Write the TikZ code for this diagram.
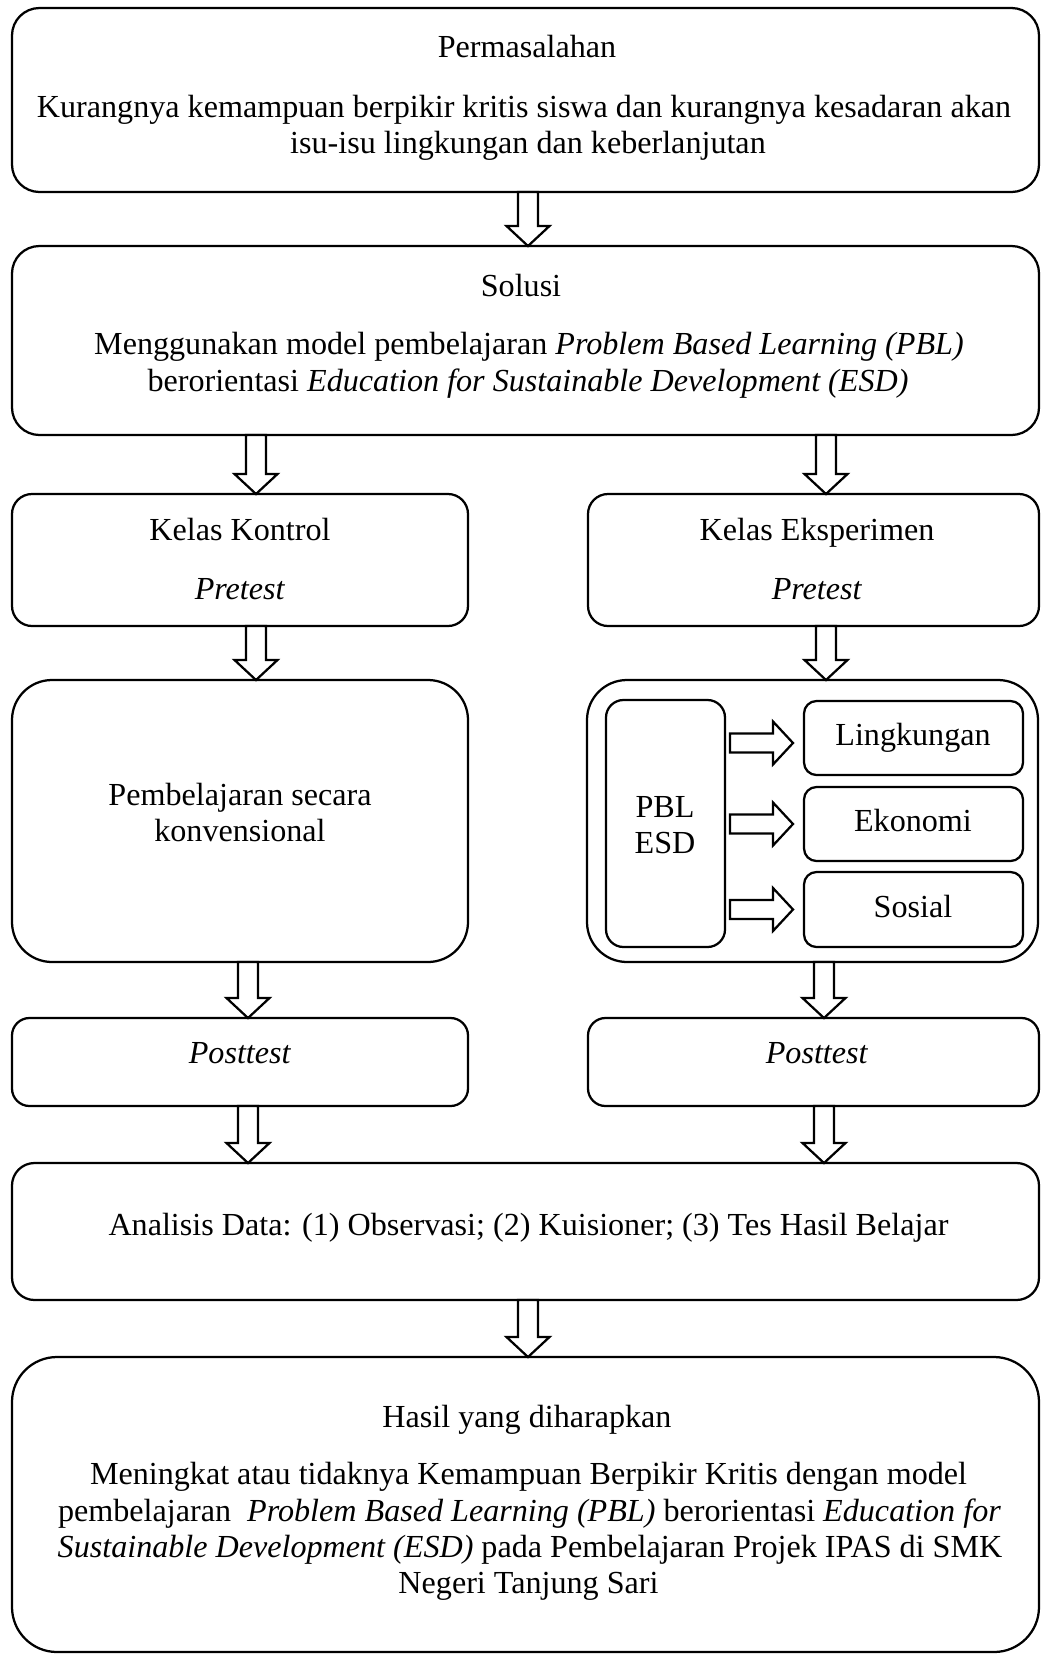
\documentclass[tikz,border=0pt]{standalone}
\usepackage{fontspec}
\setmainfont{Liberation Serif}
\usetikzlibrary{calc,fit}
\newcommand\downblock[2]{%
  \draw[blk] ($(#1)+(-10,0)$) -- ($(#1)+(10,0)$) -- ($(#2)+(10,-20)$) -- ($(#2)+(21.5,-20)$) -- (#2) -- ($(#2)+(-21.5,-20)$) -- ($(#2)+(-10,-20)$) -- cycle;}
\newcommand\rightblock[2]{%
  \draw[blk] ($(#1)+(0,-9.5)$) -- ($(#2)+(-20,-9.5)$) -- ($(#2)+(-20,-21.5)$) -- (#2) -- ($(#2)+(-20,21.5)$) -- ($(#2)+(-20,9.5)$) -- ($(#1)+(0,9.5)$) -- cycle;}
\begin{document}
\begin{tikzpicture}[x=0.4pt,y=-0.4pt,
  box/.style={draw, line width=0.9pt, inner sep=0pt, outer sep=0pt},
  blk/.style={draw, line width=0.9pt, fill=white, line join=miter},
  lbl/.style={anchor=base, inner sep=0pt, font=\fontsize{12.85pt}{15.4pt}\selectfont}]
\useasboundingbox (0,0) rectangle (1041,1654);
% boxes
\node[box, rounded corners=11pt, fit={(12,8) (1039,192)}] (b1) {};
\node[box, rounded corners=11pt, fit={(12,246) (1039,435)}] (b2) {};
\node[box, rounded corners=8pt, fit={(12,494) (468,626)}] (kk) {};
\node[box, rounded corners=8pt, fit={(588,494) (1039,626)}] (ke) {};
\node[box, rounded corners=16pt, fit={(12,680) (468,962)}] (pk) {};
\node[box, rounded corners=16pt, fit={(587,680) (1038,962)}] (pe) {};
\node[box, rounded corners=7pt, fit={(606,700) (725,947)}] (pbl) {};
\node[box, rounded corners=5pt, fit={(804,701) (1023,775)}] (ling) {};
\node[box, rounded corners=5pt, fit={(804,787) (1023,861)}] (eko) {};
\node[box, rounded corners=5pt, fit={(804,872) (1023,947)}] (sos) {};
\node[box, rounded corners=7pt, fit={(12,1018) (468,1106)}] (pk2) {};
\node[box, rounded corners=7pt, fit={(588,1018) (1039,1106)}] (pe2) {};
\node[box, rounded corners=9pt, fit={(12,1163) (1039,1300)}] (an) {};
\node[box, rounded corners=18pt, fit={(12,1357) (1039,1652)}] (ha) {};
% x positions of arrows
\coordinate (xC) at (528,0);
\coordinate (xL) at (256,0);
\coordinate (xR) at (826,0);
\coordinate (xL2) at (248,0);
\coordinate (xR2) at (824,0);
% vertical block arrows
\downblock{b1.south -| xC}{b2.north -| xC}
\downblock{b2.south -| xL}{kk.north -| xL}
\downblock{b2.south -| xR}{ke.north -| xR}
\downblock{kk.south -| xL}{pk.north -| xL}
\downblock{ke.south -| xR}{pe.north -| xR}
\downblock{pk.south -| xL2}{pk2.north -| xL2}
\downblock{pe.south -| xR2}{pe2.north -| xR2}
\downblock{pk2.south -| xL2}{an.north -| xL2}
\downblock{pe2.south -| xR2}{an.north -| xR2}
\downblock{an.south -| xC}{ha.north -| xC}
% horizontal block arrows
\coordinate (lt) at ($(ling.west)+(-11,5)$);
\coordinate (et) at ($(eko.west)+(-11,0)$);
\coordinate (st) at ($(sos.west)+(-11,0)$);
\coordinate (ls) at ($(pbl.east |- lt)+(5,0)$);
\coordinate (es) at ($(pbl.east |- et)+(5,0)$);
\coordinate (ss) at ($(pbl.east |- st)+(5,0)$);
\rightblock{ls}{lt}
\rightblock{es}{et}
\rightblock{ss}{st}
% texts
\node[lbl] (t1) at (527,57.5) {Permasalahan};
\node[lbl] (t1a) at (524,117.6) {Kurangnya kemampuan berpikir kritis siswa dan kurangnya kesadaran akan};
\node[lbl] (t1b) at (528,153.5) {isu-isu lingkungan dan keberlanjutan};
\node[lbl] (t2) at (521,296) {Solusi};
\node[lbl] (t2a) at (529,354) {Menggunakan model pembelajaran \textit{Problem Based Learning (PBL)}};
\node[lbl] (t2b) at (528,391) {berorientasi \textit{Education for Sustainable Development (ESD)}};
\node[lbl] (t3) at (240,540.5) {Kelas Kontrol};
\node[lbl] (t3a) at (240,599.6) {\textit{Pretest}};
\node[lbl] (t4) at (817,540.5) {Kelas Eksperimen};
\node[lbl] (t4a) at (817,599.6) {\textit{Pretest}};
\node[lbl] (t5) at (240,805) {Pembelajaran secara};
\node[lbl] (t5a) at (240,841) {konvensional};
\node[lbl] (t6) at (665,817) {PBL};
\node[lbl] (t6a) at (665,853) {ESD};
\node[lbl] (t7) at (913,745) {Lingkungan};
\node[lbl] (t8) at (913,831) {Ekonomi};
\node[lbl] (t9) at (913,917) {Sosial};
\node[lbl] (t10) at (240,1063) {\textit{Posttest}};
\node[lbl] (t11) at (817,1063) {\textit{Posttest}};
\node[lbl] (t12) at (528.5,1235) {Analisis Data: (1) Observasi; (2) Kuisioner; (3) Tes Hasil Belajar};
\node[lbl] (t13) at (527,1427.6) {Hasil yang diharapkan};
\node[lbl] (t13a) at (528.5,1484) {Meningkat atau tidaknya Kemampuan Berpikir Kritis dengan model};
\node[lbl] (t13b) at (529.5,1521) {pembelajaran\ \ \textit{Problem Based Learning (PBL)} berorientasi \textit{Education for}};
\node[lbl] (t13c) at (530,1557) {\textit{Sustainable Development (ESD)} pada Pembelajaran Projek IPAS di SMK};
\node[lbl] (t13d) at (528.5,1593) {Negeri Tanjung Sari};
\end{tikzpicture}
\end{document}
